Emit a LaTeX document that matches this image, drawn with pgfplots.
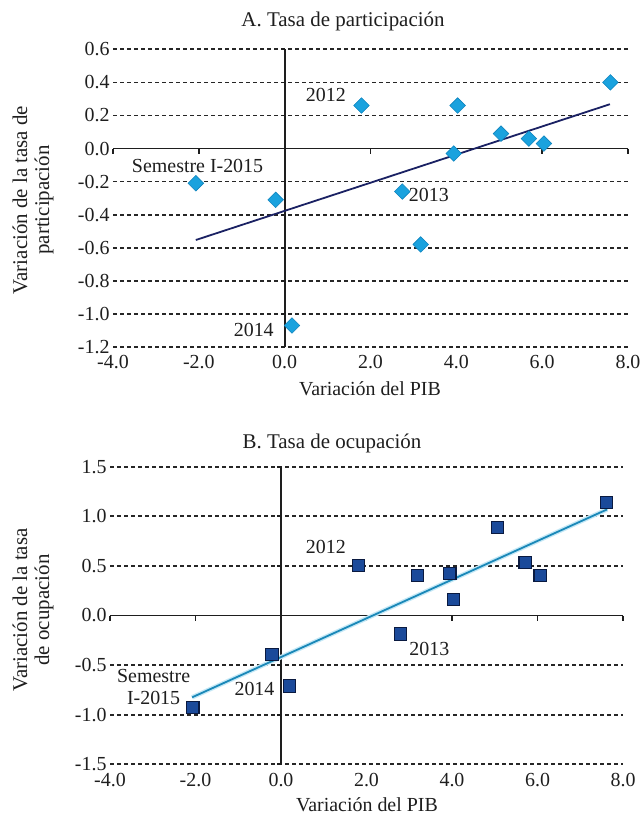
\documentclass[border=0pt]{standalone}
\usepackage{fontspec}
\setmainfont{Liberation Serif}
\usepackage{pgfplots}
\pgfplotsset{compat=1.18}
\definecolor{gridc}{HTML}{262626}
\definecolor{axisc}{HTML}{1E1E1E}
\definecolor{txtc}{HTML}{1E1E1E}
\definecolor{diafill}{HTML}{1AA2DE}
\definecolor{diaedge}{HTML}{0F84BE}
\definecolor{trendA}{HTML}{1A2163}
\definecolor{sqfill}{HTML}{1B4A9A}
\definecolor{sqedge}{HTML}{0A1A40}
\definecolor{trendB}{HTML}{1A88B8}
\definecolor{glowB}{HTML}{C4E8F6}
\newcommand{\fs}{\fontsize{20}{22}\selectfont}
\pgfplotsset{panel/.style={
  scale only axis,
  axis line style={draw=none},
  tick style={draw=none},
  major tick length=0pt,
  xmin=-4, xmax=8,
  xtick={-4,-2,0,2,4,6,8},
  xticklabels={-4.0,-2.0,0.0,2.0,4.0,6.0,8.0},
  ymajorgrids,
  major grid style={draw=gridc, line width=1.7bp, dash pattern=on 4.4bp off 2.6bp},
  tick label style={font=\fs, text=txtc},
  xticklabel style={yshift=-5bp},
  clip=false,
}}
\begin{document}
\begin{tikzpicture}
\path[use as bounding box] (0,0) rectangle (642bp,-818bp);
% ---------------- Panel A
\begin{axis}[panel, at={(113bp,-347bp)}, anchor=south west,
  width=515bp, height=297.7bp,
  ymin=-1.2, ymax=0.6,
  ytick={-1.2,-1,-0.8,-0.6,-0.4,-0.2,0,0.2,0.4,0.6},
  yticklabels={-1.2,-1.0,-0.8,-0.6,-0.4,-0.2,0.0,0.2,0.4,0.6}]
\draw[axisc, line width=1.8bp] (axis cs:-4,0) -- (axis cs:8,0);
\draw[axisc, line width=1.8bp] (axis cs:0,-1.2) -- (axis cs:0,0.6);
\pgfplotsinvokeforeach{-4,-2,0,2,4,6,8}{\draw[axisc, line width=1.6bp] (axis cs:#1,0) -- ([yshift=-5bp]axis cs:#1,0);}
\pgfplotsinvokeforeach{-1.2,-1,-0.8,-0.6,-0.4,-0.2,0.2,0.4,0.6}{\draw[axisc, line width=1.7bp] (axis cs:0,#1) -- ([xshift=-4bp]axis cs:0,#1);}
\addplot[trendA, line width=1.8bp] coordinates {(-2.07,-0.553) (7.58,0.268)};
\addplot[only marks, mark=square*, mark size=5.5bp,
  mark options={rotate=45, fill=diafill, draw=diaedge, line width=0.6bp}]
  coordinates {
  (-2.07,-0.21) (-0.21,-0.31) (1.79,0.26) (4.03,0.26) (7.59,0.40) (5.04,0.09)
  (5.69,0.06) (6.04,0.03) (3.94,-0.03) (2.74,-0.26) (3.17,-0.58) (0.17,-1.07)};
\node[font=\fs, text=txtc] at (axis cs:0.96,0.322) {2012};
\node[font=\fs, text=txtc] at (axis cs:-2.03,-0.104) {Semestre I-2015};
\node[font=\fs, text=txtc, fill=white, inner sep=2bp] at (axis cs:3.36,-0.28) {2013};
\node[font=\fs, text=txtc] at (axis cs:-0.72,-1.10) {2014};
\end{axis}
% ---------------- Panel B
\begin{axis}[panel, at={(110bp,-764.3bp)}, anchor=south west,
  width=513bp, height=297.6bp,
  ymin=-1.5, ymax=1.5,
  ytick={-1.5,-1,-0.5,0,0.5,1,1.5},
  yticklabels={-1.5,-1.0,-0.5,0.0,0.5,1.0,1.5}]
\draw[axisc, line width=1.8bp] (axis cs:-4,0) -- (axis cs:8,0);
\draw[axisc, line width=1.8bp] (axis cs:0,-1.5) -- (axis cs:0,1.5);
\pgfplotsinvokeforeach{-4,-2,0,2,4,6,8}{\draw[axisc, line width=1.6bp] (axis cs:#1,0) -- ([yshift=-5bp]axis cs:#1,0);}
\pgfplotsinvokeforeach{-1.5,-1,-0.5,0.5,1,1.5}{\draw[axisc, line width=1.7bp] (axis cs:0,#1) -- ([xshift=-4bp]axis cs:0,#1);}
\addplot[glowB, line width=4.5bp] coordinates {(-2.08,-0.825) (7.63,1.07)};
\addplot[trendB, line width=1.8bp] coordinates {(-2.08,-0.825) (7.63,1.07)};
\addplot[only marks, mark=square*, mark size=6.1bp,
  mark options={fill=sqfill, draw=sqedge, line width=1.1bp}]
  coordinates {
  (7.61,1.137) (5.07,0.885) (1.82,0.502) (3.19,0.401) (3.95,0.421) (4.04,0.16)
  (5.71,0.532) (6.06,0.401) (2.79,-0.186) (-0.21,-0.391) (0.20,-0.711) (-2.06,-0.925)};
\node[font=\fs, text=txtc] at (axis cs:1.05,0.69) {2012};
\node[font=\fs, text=txtc] at (axis cs:3.47,-0.34) {2013};
\node[font=\fs, text=txtc] at (axis cs:-0.62,-0.74) {2014};
\node[font=\fs, text=txtc, align=center] at (axis cs:-2.98,-0.725) {Semestre\\I-2015};
\end{axis}
% ---------------- titles and axis labels
\node[font=\fontsize{21}{24}\selectfont, text=txtc] at (343bp,-21bp) {A. Tasa de participación};
\node[font=\fontsize{21}{24}\selectfont, text=txtc] at (332bp,-443bp) {B. Tasa de ocupación};
\node[font=\fs, text=txtc] at (370bp,-389bp) {Variación del PIB};
\node[font=\fs, text=txtc] at (367bp,-805bp) {Variación del PIB};
\node[font=\fontsize{21}{22}\selectfont, text=txtc, rotate=90, align=center] at (33bp,-200bp) {Variación de la tasa de\\participación};
\node[font=\fontsize{21}{22}\selectfont, text=txtc, rotate=90, align=center] at (33bp,-610bp) {Variación de la tasa\\de ocupación};
\end{tikzpicture}
\end{document}
